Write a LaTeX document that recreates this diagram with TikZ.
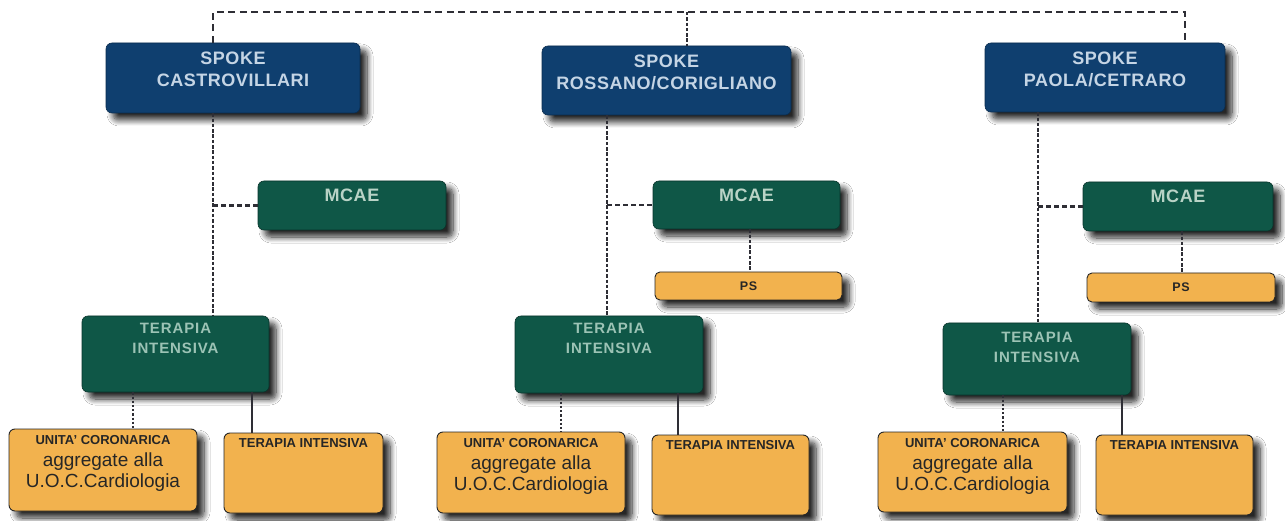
\documentclass[tikz,border=0pt]{standalone}
\usepackage{fontspec}
\setmainfont{Liberation Sans}
\usetikzlibrary{shadows.blur}
\definecolor{spokeblue}{HTML}{0F3F6F}
\definecolor{boxgreen}{HTML}{0F5747}
\definecolor{boxorange}{HTML}{F2B24E}
\definecolor{spoketext}{HTML}{C5D5E5}
\definecolor{mcaetext}{HTML}{B9D3C6}
\definecolor{titext}{HTML}{9CC3B5}
\definecolor{linegray}{HTML}{2E2E35}
\tikzset{
  shad/.style={blur shadow={shadow xshift=7pt, shadow yshift=-7pt, shadow blur radius=6pt, shadow blur steps=10, shadow opacity=85}},
  boxbase/.style={rounded corners=6pt, inner sep=0pt, shad},
  spokebox/.style={boxbase, fill=spokeblue, draw=spokeblue!70!black, line width=0.6pt},
  greenbox/.style={boxbase, fill=boxgreen, draw=boxgreen!60!black, line width=0.6pt},
  orangebox/.style={boxbase, fill=boxorange, draw=black!85, line width=0.9pt},
  spoketxt/.style={inner sep=0pt, anchor=north, text=spoketext, align=center, font=\fontsize{18}{22}\selectfont\bfseries\addfontfeature{LetterSpace=3}},
  mcaetxt/.style={inner sep=0pt, anchor=north, text=mcaetext, align=center, font=\fontsize{18}{20}\selectfont\bfseries\addfontfeature{LetterSpace=3}},
  titxt/.style={inner sep=0pt, anchor=north, text=titext, align=center, font=\fontsize{15}{20}\selectfont\bfseries\addfontfeature{LetterSpace=6}},
  unitxt/.style={inner sep=0pt, anchor=north, text=black!85, align=center, font=\fontsize{19}{21}\selectfont},
  smalltxt/.style={inner sep=0pt, text=black!85, align=center, font=\fontsize{13}{14}\selectfont\bfseries},
  pstxt/.style={font=\fontsize{12.5}{13}\selectfont\bfseries\addfontfeature{LetterSpace=6}, text=black!85},
  topdash/.style={draw=linegray, line width=2.8pt, dash pattern=on 7pt off 4.5pt},
  vdash/.style={draw=linegray, line width=2.3pt, dash pattern=on 3.5pt off 1.8pt},
  hdash/.style={draw=linegray, line width=2.5pt, dash pattern=on 5pt off 3pt},
  dotline/.style={draw=linegray, line width=2.8pt, dash pattern=on 2.2pt off 2pt},
  solidline/.style={draw=linegray, line width=1.6pt}
}
\begin{document}
\begin{tikzpicture}[x=1pt,y=-1pt]
\useasboundingbox[fill=white] (0,0) rectangle (1285,521);
% top-level boxes
\node[spokebox, minimum width=254pt, minimum height=70pt] (s1) at (233,78) {};
\node[spokebox, minimum width=249pt, minimum height=69pt] (s2) at (666.5,80.5) {};
\node[spokebox, minimum width=240pt, minimum height=69pt] (s3) at (1105,77.5) {};
\node[spoketxt, yshift=-9pt] (s1t) at (s1.north) {SPOKE\\CASTROVILLARI};
\node[spoketxt, yshift=-9pt] (s2t) at (s2.north) {SPOKE\\ROSSANO/CORIGLIANO};
\node[spoketxt, yshift=-9pt] (s3t) at (s3.north) {SPOKE\\PAOLA/CETRARO};
% MCAE
\node[greenbox, minimum width=188pt, minimum height=49pt] (m1) at (352,205.5) {};
\node[greenbox, minimum width=187pt, minimum height=48pt] (m2) at (746.5,205) {};
\node[greenbox, minimum width=190pt, minimum height=49pt] (m3) at (1178,206.5) {};
\node[mcaetxt, yshift=-8pt] (m1t) at (m1.north) {MCAE};
\node[mcaetxt, yshift=-8pt] (m2t) at (m2.north) {MCAE};
\node[mcaetxt, yshift=-8pt] (m3t) at (m3.north) {MCAE};
% PS
\node[orangebox, rounded corners=5pt, minimum width=187pt, minimum height=28pt, pstxt] (p2) at (748.5,286) {PS};
\node[orangebox, rounded corners=5pt, minimum width=188pt, minimum height=29pt, pstxt] (p3) at (1181,287.5) {PS};
% Terapia intensiva (green)
\node[greenbox, minimum width=187pt, minimum height=76pt] (ti1) at (175.5,354) {};
\node[greenbox, minimum width=188pt, minimum height=77pt] (ti2) at (609,354.5) {};
\node[greenbox, minimum width=188pt, minimum height=72pt] (ti3) at (1037,359) {};
\node[titxt, yshift=-7pt] (ti1t) at (ti1.north) {TERAPIA\\INTENSIVA};
\node[titxt, yshift=-7pt] (ti2t) at (ti2.north) {TERAPIA\\INTENSIVA};
\node[titxt, yshift=-9pt] (ti3t) at (ti3.north) {TERAPIA\\INTENSIVA};
% bottom boxes
\node[orangebox, minimum width=188pt, minimum height=82pt] (u1) at (103,470) {};
\node[orangebox, minimum width=159pt, minimum height=80pt] (b1) at (303.5,473) {};
\node[orangebox, minimum width=188pt, minimum height=81pt] (u2) at (531,472.5) {};
\node[orangebox, minimum width=157pt, minimum height=80pt] (b2) at (730.5,475) {};
\node[orangebox, minimum width=189pt, minimum height=80pt] (u3) at (972.5,472) {};
\node[orangebox, minimum width=157pt, minimum height=80pt] (b3) at (1174.5,475) {};
\foreach \u in {u1,u2,u3}{
  \node[unitxt, yshift=-7pt] (\u t) at (\u.north) {{\fontsize{13}{14}\selectfont\bfseries UNITA' CORONARICA}\\[1pt]aggregate alla\\U.O.C.Cardiologia};
}
\foreach \b in {b1,b2,b3}{
  \node[smalltxt, anchor=north, yshift=-6pt] (\b t) at (\b.north) {TERAPIA INTENSIVA};
}
% connector coordinates
\coordinate (t1) at (213,12);
\coordinate (tm) at (687,12);
\coordinate (t3) at (1185,12);
\coordinate (c2) at (607,0);
\coordinate (c3) at (1038,0);
\coordinate (d1) at (133,0);
\coordinate (e1) at (252,0);
\coordinate (d2) at (561,0);
\coordinate (e2) at (678,0);
\coordinate (d3) at (1003,0);
\coordinate (e3) at (1122,0);
\coordinate (q2) at (750,0);
\coordinate (q3) at (1182,0);
% top dashed line
\draw[topdash] (s1.north -| t1) -- (t1) -- (t3) -- (s3.north -| t3);
\draw[vdash] (tm) -- (s2.north -| tm);
% spoke verticals
\draw[vdash] (s1.south -| t1) -- (ti1.north -| t1);
\draw[hdash] (m1.west -| t1) -- (m1.west);
\draw[vdash] (s2.south -| c2) -- (ti2.north -| c2);
\draw[hdash] (m2.west -| c2) -- (m2.west);
\draw[vdash] (s3.south -| c3) -- (ti3.north -| c3);
\draw[hdash] (m3.west -| c3) -- (m3.west);
% MCAE -> PS
\draw[vdash] (m2.south -| q2) -- (p2.north -| q2);
\draw[vdash] (m3.south -| q3) -- (p3.north -| q3);
% TI -> bottom
\draw[dotline] (ti1.south -| d1) -- (u1.north -| d1);
\draw[solidline] (ti1.south -| e1) -- (b1.north -| e1);
\draw[dotline] (ti2.south -| d2) -- (u2.north -| d2);
\draw[solidline] (ti2.south -| e2) -- (b2.north -| e2);
\draw[dotline] (ti3.south -| d3) -- (u3.north -| d3);
\draw[solidline] (ti3.south -| e3) -- (b3.north -| e3);
\end{tikzpicture}
\end{document}
